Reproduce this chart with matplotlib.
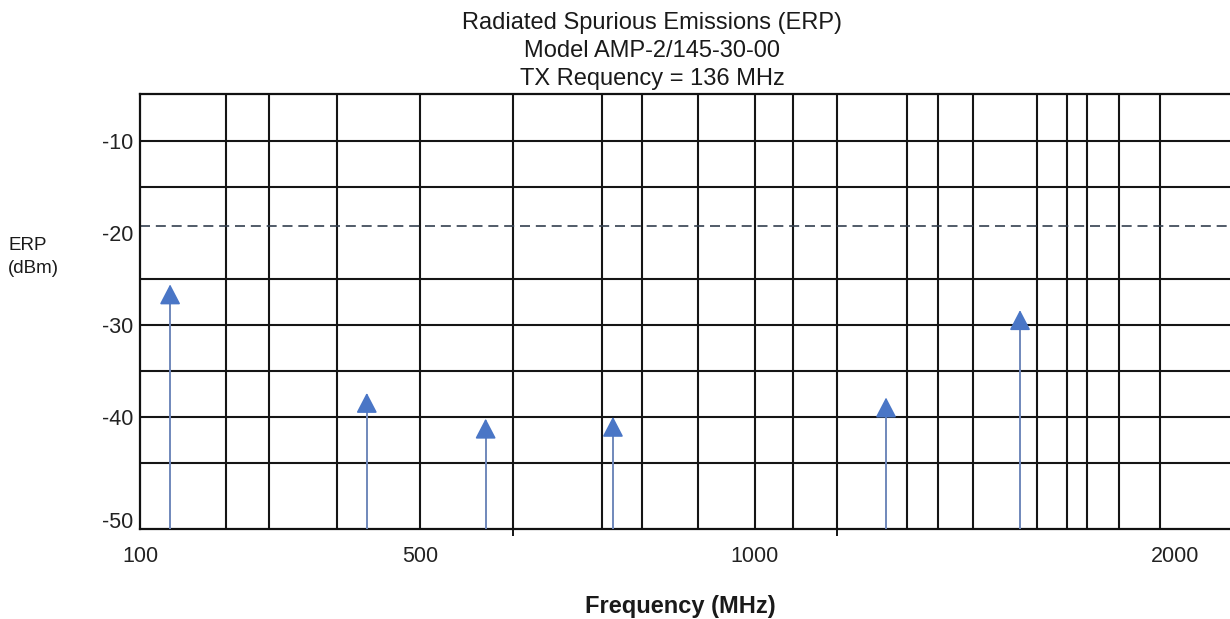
import numpy as np
import matplotlib
matplotlib.use("Agg")
import matplotlib.pyplot as plt
from matplotlib.scale import FuncScale
from matplotlib.ticker import FixedLocator, FixedFormatter

plt.rcParams['font.family'] = ['Liberation Sans', 'DejaVu Sans']

# ---- data ----
title_lines = ["Radiated Spurious Emissions (ERP)", "Model AMP-2/145-30-00", "TX Requency = 136 MHz"]
freqs = [143, 424, 598, 788, 1312, 1631]            # MHz
erp = [-25.6, -37.4, -40.2, -40.0, -37.9, -28.4]     # dBm
limit_dbm = -19.2
x_tick_vals = [100, 500, 1000, 2000]
x_tick_labels = ["100", "500", "1000", "2000"]
y_tick_vals = [-10, -20, -30, -40, -51.2]
y_tick_labels = ["-10", "-20", "-30", "-40", "-50"]
h_grid = [-10, -15, -25, -30, -35, -40, -45]
v_grid = [223, 284, 381, 500, 639, 772, 831, 915, 1000, 1090, 1195, 1362,
          1436, 1519, 1671, 1743, 1790, 1867, 1964]
short_ticks = [639, 1195]

# piecewise-linear frequency axis of the original hand-drawn chart
F = np.array([100.0, 500.0, 1000.0, 2000.0])
U = np.array([0.0, 280.0, 615.0, 1035.0])

def fwd(f):
    f = np.asarray(f, dtype=float)
    out = np.interp(f, F, U)
    s_hi = (U[-1] - U[-2]) / (F[-1] - F[-2])
    s_lo = (U[1] - U[0]) / (F[1] - F[0])
    out = np.where(f > F[-1], U[-1] + (f - F[-1]) * s_hi, out)
    out = np.where(f < F[0], U[0] + (f - F[0]) * s_lo, out)
    return out

def inv(u):
    u = np.asarray(u, dtype=float)
    out = np.interp(u, U, F)
    s_hi = (F[-1] - F[-2]) / (U[-1] - U[-2])
    s_lo = (F[1] - F[0]) / (U[1] - U[0])
    out = np.where(u > U[-1], F[-1] + (u - U[-1]) * s_hi, out)
    out = np.where(u < U[0], F[0] + (u - U[0]) * s_lo, out)
    return out

W, H = 1230, 619
fig = plt.figure(figsize=(W / 100, H / 100), dpi=100)
ax = fig.add_axes([140 / W, 1 - 529 / H, 1 - 140 / W, (529 - 94) / H])
ax.set_xscale(FuncScale(ax, (fwd, inv)))
ax.set_xlim(100, 2131)
ax.set_ylim(-52.2, -4.9)

for s in ['left', 'bottom', 'top']:
    ax.spines[s].set_linewidth(1.6)
    ax.spines[s].set_color('#111111')
ax.spines['right'].set_visible(False)

for y in h_grid:
    ax.axhline(y, color='#151515', lw=1.5, zorder=1)
for x in v_grid:
    ax.axvline(x, color='#151515', lw=1.5, zorder=1)

ax.axhline(limit_dbm, color='#34404f', lw=1.2, ls=(0, (6, 3.5)), zorder=2)

# arrows
bottom = ax.get_ylim()[0]
for f, v in zip(freqs, erp):
    ax.vlines(f, bottom, v - 1.0, color='#7088bb', lw=1.4, zorder=3)
    ax.annotate("", xy=(f, v), xytext=(f, v - 1.2),
                arrowprops=dict(arrowstyle='-|>,head_length=1.25,head_width=0.65',
                                color='#4a76c6', lw=1.2, shrinkA=0, shrinkB=0),
                zorder=4)

ax.xaxis.set_major_locator(FixedLocator(x_tick_vals))
ax.xaxis.set_major_formatter(FixedFormatter(x_tick_labels))
ax.xaxis.set_minor_locator(FixedLocator(short_ticks))
ax.yaxis.set_major_locator(FixedLocator(y_tick_vals))
ax.yaxis.set_major_formatter(FixedFormatter(y_tick_labels))
ax.tick_params(axis='x', which='major', length=0, pad=12, labelsize=15.5, labelcolor='#222222')
ax.tick_params(axis='x', which='minor', length=5, width=1.4, direction='out', color='#151515')
ax.tick_params(axis='y', which='major', length=0, pad=5, labelsize=15.5, labelcolor='#222222')

fig.text(652 / W, 1 - 51 / H, "\n".join(title_lines), ha='center', va='center',
         fontsize=17, linespacing=1.36, color='#1a1a1a')
fig.text(8 / W, 1 - 257 / H, "ERP\n(dBm)", ha='left', va='center', fontsize=13.5,
         linespacing=1.45, color='#1a1a1a')
fig.text(680 / W, 1 - 607 / H, "Frequency (MHz)", ha='center', va='center',
         fontsize=17, fontweight='bold', color='#1a1a1a')

fig.savefig("out.png", dpi=100)
